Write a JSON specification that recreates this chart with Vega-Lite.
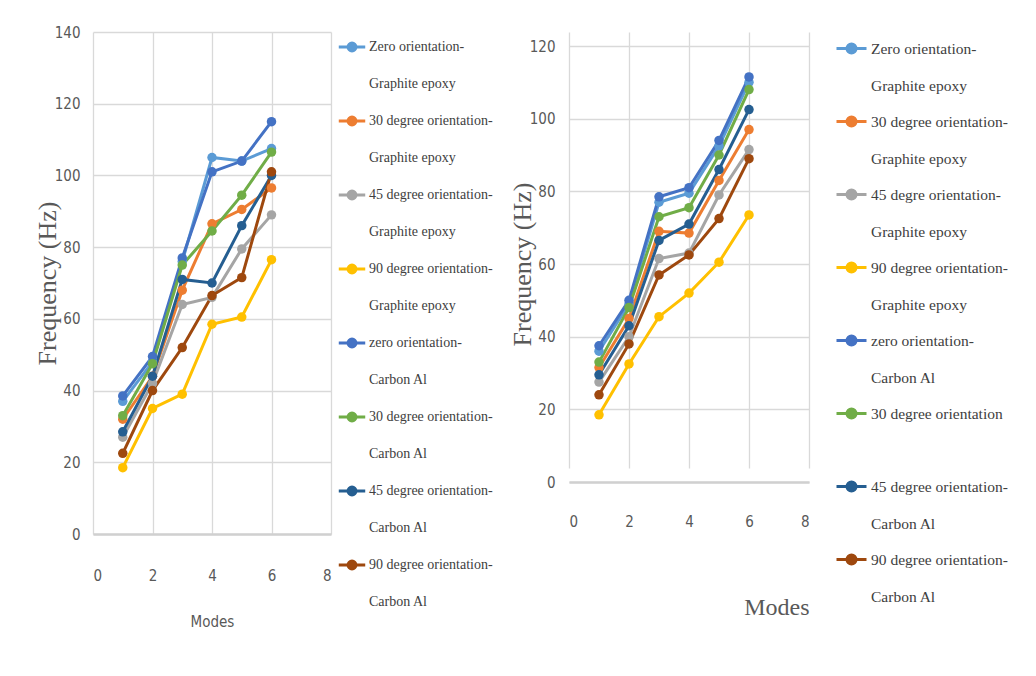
{
  "$schema": "https://vega.github.io/schema/vega-lite/v6.json",
  "background": "white",
  "padding": {"left": 34, "top": 25, "right": 5, "bottom": 5},
  "spacing": 16,
  "datasets": {
    "left": [
      {"mode": 1, "freq": 37, "series": "Zero orientation-|Graphite epoxy"},
      {"mode": 2, "freq": 48, "series": "Zero orientation-|Graphite epoxy"},
      {"mode": 3, "freq": 76, "series": "Zero orientation-|Graphite epoxy"},
      {"mode": 4, "freq": 105, "series": "Zero orientation-|Graphite epoxy"},
      {"mode": 5, "freq": 104, "series": "Zero orientation-|Graphite epoxy"},
      {"mode": 6, "freq": 107.5, "series": "Zero orientation-|Graphite epoxy"},
      {"mode": 1, "freq": 32, "series": "30 degree orientation-|Graphite epoxy"},
      {"mode": 2, "freq": 44, "series": "30 degree orientation-|Graphite epoxy"},
      {"mode": 3, "freq": 68, "series": "30 degree orientation-|Graphite epoxy"},
      {"mode": 4, "freq": 86.5, "series": "30 degree orientation-|Graphite epoxy"},
      {"mode": 5, "freq": 90.5, "series": "30 degree orientation-|Graphite epoxy"},
      {"mode": 6, "freq": 96.5, "series": "30 degree orientation-|Graphite epoxy"},
      {"mode": 1, "freq": 27, "series": "45 degree orientation-|Graphite epoxy"},
      {"mode": 2, "freq": 42, "series": "45 degree orientation-|Graphite epoxy"},
      {"mode": 3, "freq": 64, "series": "45 degree orientation-|Graphite epoxy"},
      {"mode": 4, "freq": 66, "series": "45 degree orientation-|Graphite epoxy"},
      {"mode": 5, "freq": 79.5, "series": "45 degree orientation-|Graphite epoxy"},
      {"mode": 6, "freq": 89, "series": "45 degree orientation-|Graphite epoxy"},
      {"mode": 1, "freq": 18.5, "series": "90 degree orientation-|Graphite epoxy"},
      {"mode": 2, "freq": 35, "series": "90 degree orientation-|Graphite epoxy"},
      {"mode": 3, "freq": 39, "series": "90 degree orientation-|Graphite epoxy"},
      {"mode": 4, "freq": 58.5, "series": "90 degree orientation-|Graphite epoxy"},
      {"mode": 5, "freq": 60.5, "series": "90 degree orientation-|Graphite epoxy"},
      {"mode": 6, "freq": 76.5, "series": "90 degree orientation-|Graphite epoxy"},
      {"mode": 1, "freq": 38.5, "series": "zero orientation-|Carbon Al"},
      {"mode": 2, "freq": 49.5, "series": "zero orientation-|Carbon Al"},
      {"mode": 3, "freq": 77, "series": "zero orientation-|Carbon Al"},
      {"mode": 4, "freq": 101, "series": "zero orientation-|Carbon Al"},
      {"mode": 5, "freq": 104, "series": "zero orientation-|Carbon Al"},
      {"mode": 6, "freq": 115, "series": "zero orientation-|Carbon Al"},
      {"mode": 1, "freq": 33, "series": "30 degree orientation-|Carbon Al"},
      {"mode": 2, "freq": 47.5, "series": "30 degree orientation-|Carbon Al"},
      {"mode": 3, "freq": 75, "series": "30 degree orientation-|Carbon Al"},
      {"mode": 4, "freq": 84.5, "series": "30 degree orientation-|Carbon Al"},
      {"mode": 5, "freq": 94.5, "series": "30 degree orientation-|Carbon Al"},
      {"mode": 6, "freq": 106.5, "series": "30 degree orientation-|Carbon Al"},
      {"mode": 1, "freq": 28.5, "series": "45 degree orientation-|Carbon Al"},
      {"mode": 2, "freq": 44, "series": "45 degree orientation-|Carbon Al"},
      {"mode": 3, "freq": 71, "series": "45 degree orientation-|Carbon Al"},
      {"mode": 4, "freq": 70, "series": "45 degree orientation-|Carbon Al"},
      {"mode": 5, "freq": 86, "series": "45 degree orientation-|Carbon Al"},
      {"mode": 6, "freq": 100, "series": "45 degree orientation-|Carbon Al"},
      {"mode": 1, "freq": 22.5, "series": "90 degree orientation-|Carbon Al"},
      {"mode": 2, "freq": 40, "series": "90 degree orientation-|Carbon Al"},
      {"mode": 3, "freq": 52, "series": "90 degree orientation-|Carbon Al"},
      {"mode": 4, "freq": 66.5, "series": "90 degree orientation-|Carbon Al"},
      {"mode": 5, "freq": 71.5, "series": "90 degree orientation-|Carbon Al"},
      {"mode": 6, "freq": 101, "series": "90 degree orientation-|Carbon Al"}
    ],
    "right": [
      {"mode": 1, "freq": 36, "series": "Zero orientation-|Graphite epoxy"},
      {"mode": 2, "freq": 49, "series": "Zero orientation-|Graphite epoxy"},
      {"mode": 3, "freq": 77, "series": "Zero orientation-|Graphite epoxy"},
      {"mode": 4, "freq": 79.5, "series": "Zero orientation-|Graphite epoxy"},
      {"mode": 5, "freq": 92.5, "series": "Zero orientation-|Graphite epoxy"},
      {"mode": 6, "freq": 110, "series": "Zero orientation-|Graphite epoxy"},
      {"mode": 1, "freq": 31.5, "series": "30 degree orientation-|Graphite epoxy"},
      {"mode": 2, "freq": 45, "series": "30 degree orientation-|Graphite epoxy"},
      {"mode": 3, "freq": 69, "series": "30 degree orientation-|Graphite epoxy"},
      {"mode": 4, "freq": 68.5, "series": "30 degree orientation-|Graphite epoxy"},
      {"mode": 5, "freq": 83, "series": "30 degree orientation-|Graphite epoxy"},
      {"mode": 6, "freq": 97, "series": "30 degree orientation-|Graphite epoxy"},
      {"mode": 1, "freq": 27.5, "series": "45 degre orientation-|Graphite epoxy"},
      {"mode": 2, "freq": 40, "series": "45 degre orientation-|Graphite epoxy"},
      {"mode": 3, "freq": 61.5, "series": "45 degre orientation-|Graphite epoxy"},
      {"mode": 4, "freq": 63, "series": "45 degre orientation-|Graphite epoxy"},
      {"mode": 5, "freq": 79, "series": "45 degre orientation-|Graphite epoxy"},
      {"mode": 6, "freq": 91.5, "series": "45 degre orientation-|Graphite epoxy"},
      {"mode": 1, "freq": 18.5, "series": "90 degree orientation-|Graphite epoxy"},
      {"mode": 2, "freq": 32.5, "series": "90 degree orientation-|Graphite epoxy"},
      {"mode": 3, "freq": 45.5, "series": "90 degree orientation-|Graphite epoxy"},
      {"mode": 4, "freq": 52, "series": "90 degree orientation-|Graphite epoxy"},
      {"mode": 5, "freq": 60.5, "series": "90 degree orientation-|Graphite epoxy"},
      {"mode": 6, "freq": 73.5, "series": "90 degree orientation-|Graphite epoxy"},
      {"mode": 1, "freq": 37.5, "series": "zero orientation-|Carbon Al"},
      {"mode": 2, "freq": 50, "series": "zero orientation-|Carbon Al"},
      {"mode": 3, "freq": 78.5, "series": "zero orientation-|Carbon Al"},
      {"mode": 4, "freq": 81, "series": "zero orientation-|Carbon Al"},
      {"mode": 5, "freq": 94, "series": "zero orientation-|Carbon Al"},
      {"mode": 6, "freq": 111.5, "series": "zero orientation-|Carbon Al"},
      {"mode": 1, "freq": 33, "series": "30 degree orientation| "},
      {"mode": 2, "freq": 48, "series": "30 degree orientation| "},
      {"mode": 3, "freq": 73, "series": "30 degree orientation| "},
      {"mode": 4, "freq": 75.5, "series": "30 degree orientation| "},
      {"mode": 5, "freq": 90, "series": "30 degree orientation| "},
      {"mode": 6, "freq": 108, "series": "30 degree orientation| "},
      {"mode": 1, "freq": 29.5, "series": "45 degree orientation-|Carbon Al"},
      {"mode": 2, "freq": 43, "series": "45 degree orientation-|Carbon Al"},
      {"mode": 3, "freq": 66.5, "series": "45 degree orientation-|Carbon Al"},
      {"mode": 4, "freq": 71, "series": "45 degree orientation-|Carbon Al"},
      {"mode": 5, "freq": 86, "series": "45 degree orientation-|Carbon Al"},
      {"mode": 6, "freq": 102.5, "series": "45 degree orientation-|Carbon Al"},
      {"mode": 1, "freq": 24, "series": "90 degree orientation-|Carbon Al"},
      {"mode": 2, "freq": 38, "series": "90 degree orientation-|Carbon Al"},
      {"mode": 3, "freq": 57, "series": "90 degree orientation-|Carbon Al"},
      {"mode": 4, "freq": 62.5, "series": "90 degree orientation-|Carbon Al"},
      {"mode": 5, "freq": 72.5, "series": "90 degree orientation-|Carbon Al"},
      {"mode": 6, "freq": 89, "series": "90 degree orientation-|Carbon Al"}
    ]
  },
  "hconcat": [
    {
      "width": 238,
      "height": 502,
      "data": {"name": "left"},
      "mark": {"type": "line", "strokeWidth": 3, "point": {"filled": true, "size": 90}},
      "encoding": {
        "x": {
          "field": "mode", "type": "quantitative",
          "scale": {"domain": [0, 8], "nice": false},
          "axis": {"values": [0, 2, 4, 6, 8], "title": "Modes", "labelPadding": 34, "titlePadding": 31,
                   "titleFont": "DejaVu Sans Condensed, Liberation Sans, sans-serif", "titleFontSize": 15, "titleFontWeight": "normal", "titleColor": "#595959"}
        },
        "y": {
          "field": "freq", "type": "quantitative",
          "scale": {"domain": [0, 140], "nice": false},
          "axis": {"values": [0, 20, 40, 60, 80, 100, 120, 140], "title": "Frequency (Hz)", "labelPadding": 13, "titlePadding": -6,
                   "titleFont": "Liberation Serif", "titleFontSize": 26, "titleFontWeight": "normal", "titleColor": "#595959"}
        },
        "color": {
          "field": "series", "type": "nominal",
          "scale": {
            "domain": ["Zero orientation-|Graphite epoxy", "30 degree orientation-|Graphite epoxy", "45 degree orientation-|Graphite epoxy", "90 degree orientation-|Graphite epoxy", "zero orientation-|Carbon Al", "30 degree orientation-|Carbon Al", "45 degree orientation-|Carbon Al", "90 degree orientation-|Carbon Al"],
            "range": ["#5B9BD5", "#ED7D31", "#A5A5A5", "#FFC000", "#4472C4", "#70AD47", "#255E91", "#9E480E"]
          },
          "legend": {
            "title": null, "orient": "right", "offset": 6, "padding": 0,
            "labelExpr": "split(datum.label, '|')",
            "labelFont": "Liberation Serif", "labelFontSize": 14, "labelColor": "#404040", "labelLimit": 400, "labelOffset": 2,
            "symbolType": "M-1,0H1M-0.3,0A0.3,0.3,0,1,0,0.3,0A0.3,0.3,0,1,0,-0.3,0ZM-0.12,0A0.12,0.12,0,1,0,0.12,0A0.12,0.12,0,1,0,-0.12,0Z",
            "symbolSize": 700, "symbolStrokeWidth": 3,
            "rowPadding": 15,
            "encode": {"labels": {"update": {"lineHeight": {"value": 37}}}}
          }
        }
      }
    },
    {
      "width": 240,
      "height": 450,
      "data": {"name": "right"},
      "mark": {"type": "line", "strokeWidth": 3, "point": {"filled": true, "size": 90}},
      "encoding": {
        "x": {
          "field": "mode", "type": "quantitative",
          "scale": {"domain": [0, 8], "nice": false},
          "axis": {"values": [0, 2, 4, 6, 8], "title": "Modes", "labelPadding": 32, "titlePadding": 66, "titleAnchor": "end",
                   "titleFont": "Liberation Serif", "titleFontSize": 24, "titleFontWeight": "normal", "titleColor": "#595959"}
        },
        "y": {
          "field": "freq", "type": "quantitative",
          "scale": {"domain": [0, 120], "nice": false, "range": [450, 14]},
          "axis": {"values": [0, 20, 40, 60, 80, 100, 120], "title": "Frequency (Hz)", "labelPadding": 14, "titlePadding": -6,
                   "titleFont": "Liberation Serif", "titleFontSize": 26, "titleFontWeight": "normal", "titleColor": "#595959"}
        },
        "color": {
          "field": "series", "type": "nominal",
          "scale": {
            "domain": ["Zero orientation-|Graphite epoxy", "30 degree orientation-|Graphite epoxy", "45 degre orientation-|Graphite epoxy", "90 degree orientation-|Graphite epoxy", "zero orientation-|Carbon Al", "30 degree orientation| ", "45 degree orientation-|Carbon Al", "90 degree orientation-|Carbon Al"],
            "range": ["#5B9BD5", "#ED7D31", "#A5A5A5", "#FFC000", "#4472C4", "#70AD47", "#255E91", "#9E480E"]
          },
          "legend": {
            "title": null, "orient": "right", "offset": 26, "padding": 0,
            "labelExpr": "split(datum.label, '|')",
            "labelFont": "Liberation Serif", "labelFontSize": 15.5, "labelColor": "#404040", "labelLimit": 400, "labelOffset": 3,
            "symbolType": "M-1,0H1M-0.3,0A0.3,0.3,0,1,0,0.3,0A0.3,0.3,0,1,0,-0.3,0ZM-0.12,0A0.12,0.12,0,1,0,0.12,0A0.12,0.12,0,1,0,-0.12,0Z",
            "symbolSize": 900, "symbolStrokeWidth": 3,
            "rowPadding": 11,
            "encode": {"labels": {"update": {"lineHeight": {"value": 37}}}}
          }
        }
      }
    }
  ],
  "resolve": {"scale": {"color": "independent"}, "legend": {"color": "independent"}},
  "config": {
    "view": {"stroke": null},
    "axis": {
      "grid": true, "gridColor": "#d9d9d9", "gridWidth": 1.3,
      "ticks": false,
      "labelColor": "#595959", "labelFont": "DejaVu Sans Condensed, Liberation Sans, sans-serif", "labelFontSize": 15
    },
    "axisX": {"domainColor": "#d0d0d0", "domainWidth": 2.5},
    "axisY": {"domain": false}
  }
}
